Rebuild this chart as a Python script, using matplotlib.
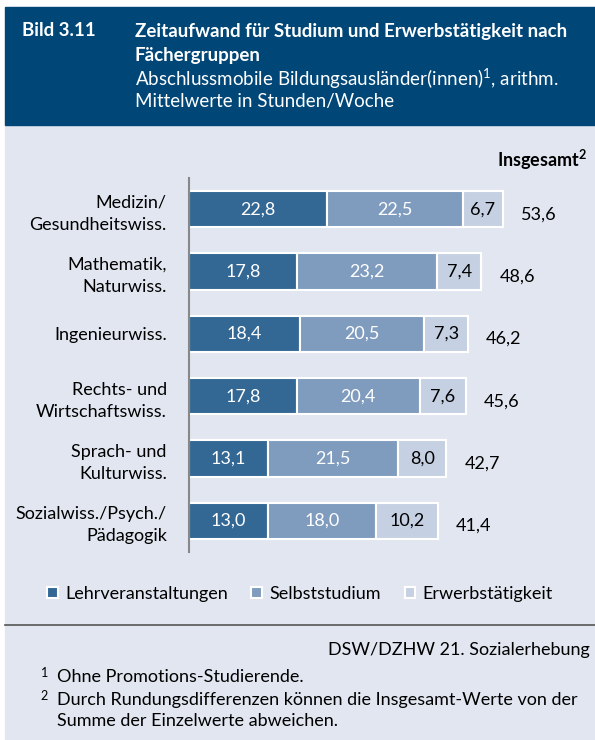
import matplotlib.pyplot as plt
from matplotlib.patches import Rectangle
import numpy as np

plt.rcParams['font.family'] = ['Lato', 'DejaVu Sans']
plt.rcParams['mathtext.fontset'] = 'custom'
plt.rcParams['mathtext.rm'] = 'Lato'
plt.rcParams['mathtext.bf'] = 'Lato:bold'

categories = ["Medizin/\nGesundheitswiss.", "Mathematik,\nNaturwiss.", "Ingenieurwiss.",
              "Rechts- und\nWirtschaftswiss.", "Sprach- und\nKulturwiss.",
              "Sozialwiss./Psych./\nPädagogik"]
lehrveranstaltungen = [22.8, 17.8, 18.4, 17.8, 13.1, 13.0]
selbststudium = [22.5, 23.2, 20.5, 20.4, 21.5, 18.0]
erwerbstaetigkeit = [6.7, 7.4, 7.3, 7.6, 8.0, 10.2]
insgesamt = [53.6, 48.6, 46.2, 45.6, 42.7, 41.4]
series_names = ["Lehrveranstaltungen", "Selbststudium", "Erwerbstätigkeit"]
colors = ["#336895", "#7f9cbf", "#c5d1e2"]
text_colors = ["white", "white", "black"]

FS = 13
W, H = 595, 740
fig = plt.figure(figsize=(W / 100, H / 100), dpi=100)
fig.patch.set_facecolor("white")

# background layer in pixel coordinates
bg = fig.add_axes([0, 0, 1, 1])
bg.set_xlim(0, W)
bg.set_ylim(H, 0)
bg.axis("off")
bg.add_patch(Rectangle((5, 125), 590, 615, color="#e1e6f0", zorder=0))
bg.add_patch(Rectangle((5, 7), 590, 118, color="#004677", zorder=1))

hdr = dict(color="white", fontsize=13.5, va="center", ha="left")
bg.text(22, 31, "Bild 3.11", fontweight="bold", **hdr)
bg.text(135, 31, "Zeitaufwand für Studium und Erwerbstätigkeit nach", fontweight="bold", **hdr)
bg.text(135, 55, "Fächergruppen", fontweight="bold", **hdr)
bg.text(135, 79, "Abschlussmobile Bildungsausländer(innen)$^{1}$, arithm.", **hdr)
bg.text(135, 102, "Mittelwerte in Stunden/Woche", **hdr)

bg.text(587, 160, "Insgesamt$^{\\mathbf{2}}$", fontweight="bold", fontsize=FS,
        ha="right", va="center")

bg.plot([5, 595], [625, 625], color="#555555", lw=1.2)
bg.text(590, 650, "DSW/DZHW 21. Sozialerhebung", fontsize=FS, ha="right", va="center")
bg.text(40, 676, "$^{1}$", fontsize=FS, va="center")
bg.text(57, 677, "Ohne Promotions-Studierende.", fontsize=FS, va="center")
bg.text(40, 699, "$^{2}$", fontsize=FS, va="center")
bg.text(57, 700, "Durch Rundungsdifferenzen können die Insgesamt-Werte von der", fontsize=FS, va="center")
bg.text(57, 721, "Summe der Einzelwerte abweichen.", fontsize=FS, va="center")

# chart axes
ax = fig.add_axes([189 / W, 1 - 552 / H, 406 / W, 374 / H])
ax.patch.set_alpha(0)
y = np.arange(len(categories))
left = np.zeros(len(categories))
for vals, col, tc, name in zip([lehrveranstaltungen, selbststudium, erwerbstaetigkeit],
                               colors, text_colors, series_names):
    vals = np.array(vals)
    ax.barh(y, vals, left=left, height=0.58, color=col, edgecolor="white",
            linewidth=1.5, label=name)
    for yi, l, v in zip(y, left, vals):
        ax.text(l + v / 2, yi, f"{v:.1f}".replace(".", ","), ha="center", va="center",
                color=tc, fontsize=FS)
    left = left + vals

for yi, l, t in zip(y, left, insgesamt):
    ax.text(l + 3.0, yi + 0.08, f"{t:.1f}".replace(".", ","), ha="left", va="center", fontsize=FS)

ax.set_xlim(0, 67.2)
ax.set_ylim(len(categories) - 0.5, -0.5)
ax.set_yticks(y)
ax.set_yticklabels(categories, fontsize=FS, ha="right", linespacing=1.45)
ax.tick_params(axis="y", length=0, pad=16)
ax.set_xticks([])
for s in ["top", "right", "bottom"]:
    ax.spines[s].set_visible(False)
ax.spines["left"].set_color("#888888")
ax.spines["left"].set_linewidth(1.5)

leg = ax.legend(loc="center", bbox_to_anchor=(300 / 406 - 189 / 406, -42 / 374), ncol=3,
                frameon=False, fontsize=FS, handlelength=0.6, handleheight=0.6,
                handletextpad=0.4, columnspacing=1.3)

fig.savefig("out.png", dpi=100, facecolor=fig.get_facecolor())
